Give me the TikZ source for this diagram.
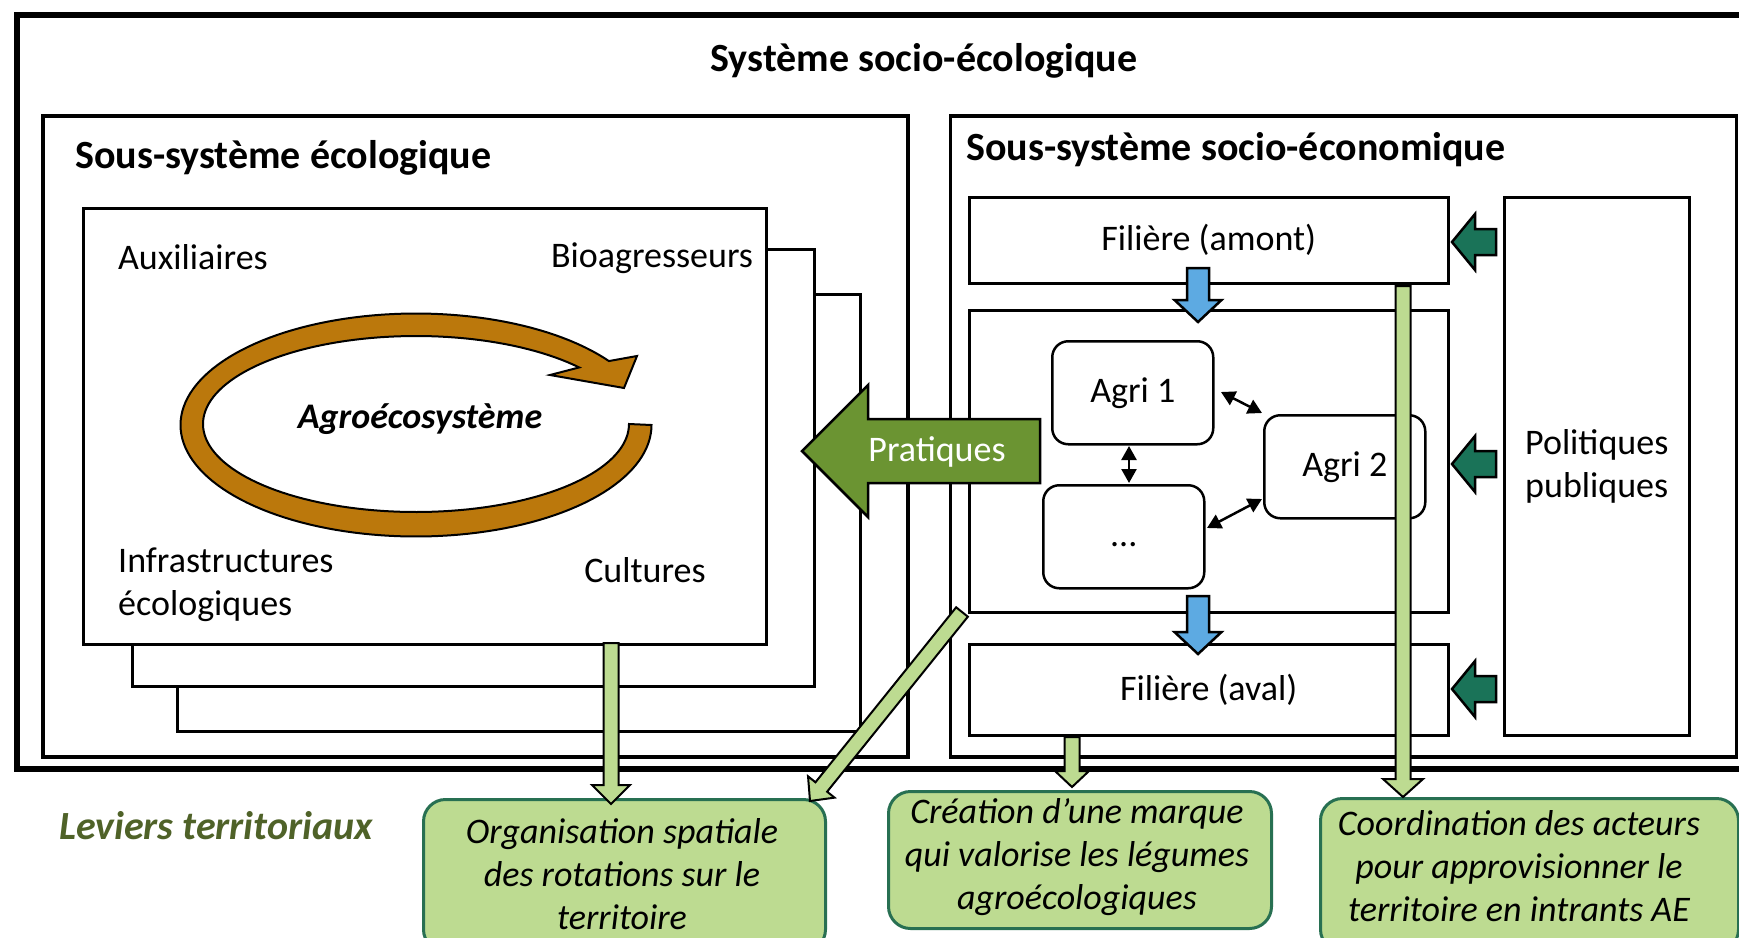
\documentclass[tikz,border=0pt]{standalone}
\usepackage{fontspec}
\setmainfont{Carlito}
\usetikzlibrary{arrows.meta,calc}
\definecolor{brownarr}{RGB}{187,120,12}
\definecolor{pratgreen}{RGB}{107,148,50}
\definecolor{bluearr}{RGB}{93,170,226}
\definecolor{darkgreen}{RGB}{26,115,88}
\definecolor{lightgreen}{RGB}{189,219,145}
\definecolor{boxborder}{RGB}{40,112,82}
\definecolor{leviercol}{RGB}{79,98,40}
\newcommand\txtsize{\fontsize{36}{43}\selectfont}
\newcommand\hdsize{\fontsize{40}{46}\selectfont}
\newcommand\fatarrow[6]{%
  \coordinate (fahead) at ($(#2)!#5!(#1)$);
  \filldraw[#6] ($(#1)!#3!90:(#2)$) -- ($(fahead)!#3!90:(#2)$) -- ($(fahead)!#4!90:(#2)$) -- (#2)
    -- ($(fahead)!#4!-90:(#2)$) -- ($(fahead)!#3!-90:(#2)$) -- ($(#1)!#3!-90:(#2)$) -- cycle;
}
\begin{document}
\begin{tikzpicture}[x=1pt,y=-1pt,
  framebox/.style={draw, fill=white, inner sep=0pt, anchor=north west},
  agribox/.style={draw, fill=white, line width=2.5pt, rounded corners=16pt, inner sep=0pt,
     anchor=north west, minimum width=161pt, minimum height=103pt, font=\txtsize},
  leverbox/.style={draw=boxborder, fill=lightgreen, line width=3pt, rounded corners=22pt, inner sep=0pt, anchor=north west},
  plaintext/.style={font=\txtsize, inner sep=0pt},
  levertext/.style={font=\txtsize\itshape, align=center, inner sep=0pt},
  dblarrow/.style={{Triangle[length=14pt,width=15pt]}-{Triangle[length=14pt,width=15pt]}, line width=2.5pt},
  lgarrow/.style={fill=lightgreen, draw=black, line width=2pt, line join=miter},
  bluestyle/.style={fill=bluearr, draw=black, line width=2.5pt, line join=miter},
  dgstyle/.style={fill=darkgreen, draw=black, line width=2.5pt, line join=miter},
  pratstyle/.style={fill=pratgreen, draw=black, line width=2.5pt, line join=miter}]
\clip (0,0) rectangle (1739,937);
\fill[white] (0,0) rectangle (1739,937);

% outer system
\node[framebox, line width=5.5pt, minimum width=1790pt, minimum height=754pt] (outer) at (14,12) {};
\node[font=\hdsize\bfseries, inner sep=0pt] (title) at (924,61) {Système socio-écologique};

% ecological subsystem
\node[framebox, line width=3.5pt, minimum width=865pt, minimum height=641pt] (eco) at (41,114) {};
\node[font=\hdsize\bfseries, inner sep=0pt, anchor=west] (ecotitle) at (75,158) {Sous-système écologique};
\node[framebox, line width=2.5pt, minimum width=683pt, minimum height=437pt] (stack3) at (176,293) {};
\node[framebox, line width=2.5pt, minimum width=682pt, minimum height=437pt] (stack2) at (131,248) {};
\node[framebox, line width=2.5pt, minimum width=683pt, minimum height=436pt] (stack1) at (82,207) {};

\node[plaintext] (aux) at (193,257) {Auxiliaires};
\node[plaintext] (bio) at (652,258) {Bioagresseurs};
\node[plaintext, anchor=west, align=left] (infra) at (118,585) {Infrastructures\\écologiques};
\node[plaintext] (cult) at (645,570) {Cultures};

% circular arrow
\filldraw[fill=brownarr, draw=black, line width=2pt, line join=miter]
  plot[domain=0:325, samples=140] ({416+235.5*cos(\x)},{425+111.5*sin(\x)})
  -- (637,356) -- (624,388) -- (550,375)
  -- plot[domain=320:0, samples=140] ({416+213*cos(\x)},{424+88*sin(\x)}) -- cycle;
\node[font=\txtsize\bfseries\itshape, inner sep=0pt] (agroeco) at (420,419) {Agroécosystème};

% socio-economic subsystem
\node[framebox, line width=3.5pt, minimum width=786pt, minimum height=641pt] (socio) at (948.5,114) {};
\node[font=\hdsize\bfseries, inner sep=0pt, anchor=west] (sociotitle) at (966,150) {Sous-système socio-économique};
\node[framebox, line width=2.5pt, minimum width=479pt, minimum height=86pt, font=\txtsize] (amont) at (968,196) {Filière (amont)};
\node[framebox, line width=2.5pt, minimum width=479pt, minimum height=302pt] (middle) at (968,309) {};
\node[framebox, line width=2.5pt, minimum width=479pt, minimum height=91pt, font=\txtsize] (aval) at (968,643) {Filière (aval)};
\node[framebox, line width=2.5pt, minimum width=185pt, minimum height=538pt, font=\txtsize, align=center] (polit) at (1503,196) {Politiques\\publiques};

\node[agribox] (agri1) at (1051,340) {Agri 1};
\node[agribox] (agri2) at (1263,414) {Agri 2};
\node[agribox] (dots) at (1042,484) {\vphantom{Agri}...};

% small double arrows
\coordinate (a12s) at (1221,392); \coordinate (a12e) at (1262,413);
\coordinate (a1ds) at (1129,446); \coordinate (a1de) at (1129,483);
\coordinate (d2s) at (1207,528); \coordinate (d2e) at (1262,499);
\draw[dblarrow] (a12s) -- (a12e);
\draw[dblarrow] (a1ds) -- (a1de);
\draw[dblarrow] (d2s) -- (d2e);

% blue arrows
\coordinate (b1s) at (1198,268); \coordinate (b1e) at (1198,322);
\coordinate (b2s) at (1198,596); \coordinate (b2e) at (1198,654);
\fatarrow{b1s}{b1e}{11pt}{23.5pt}{22pt}{bluestyle}
\fatarrow{b2s}{b2e}{11pt}{23.5pt}{22pt}{bluestyle}

% dark green arrows from public policies
\coordinate (p1s) at (1496,242); \coordinate (p1e) at (1452,242);
\coordinate (p2s) at (1496,464); \coordinate (p2e) at (1452,464);
\coordinate (p3s) at (1496,689); \coordinate (p3e) at (1452,689);
\fatarrow{p1s}{p1e}{13pt}{28pt}{23pt}{dgstyle}
\fatarrow{p2s}{p2e}{13pt}{28pt}{23pt}{dgstyle}
\fatarrow{p3s}{p3e}{13pt}{28pt}{23pt}{dgstyle}

% Pratiques arrow
\coordinate (prs) at (1040,451); \coordinate (pre) at (802,451);
\fatarrow{prs}{pre}{32pt}{66pt}{66pt}{pratstyle}
\node[font=\txtsize, text=white, inner sep=0pt] (pratlbl) at (937,452) {Pratiques};

% lever boxes
\node[leverbox, minimum width=402pt, minimum height=152pt] (orga) at (422,798) {};
\node[leverbox, minimum width=383pt, minimum height=137pt] (marque) at (887,790) {};
\node[leverbox, minimum width=418pt, minimum height=153pt] (coord) at (1319,797) {};
\node[levertext] (orgatxt) at (622,874) {Organisation spatiale\\des rotations sur le\\territoire};
\node[levertext] (marquetxt) at (1077,857) {Création d’une marque\\qui valorise les légumes\\agroécologiques};
\node[levertext] (coordtxt) at (1519,866) {Coordination des acteurs\\pour approvisionner le\\territoire en intrants AE};
\node[font=\hdsize\bfseries\itshape, text=leviercol, inner sep=0pt] (leviers) at (216,826) {Leviers territoriaux};

% light green lever arrows
\coordinate (g1s) at (611,643); \coordinate (g1e) at (611,804);
\coordinate (g2s) at (962,612); \coordinate (g2e) at (810,801);
\coordinate (g3s) at (1072,737); \coordinate (g3e) at (1072,787);
\coordinate (g4s) at (1403,286); \coordinate (g4e) at (1403,797);
\fatarrow{g1s}{g1e}{7.5pt}{19pt}{19pt}{lgarrow}
\fatarrow{g2s}{g2e}{7.5pt}{17pt}{18pt}{lgarrow}
\fatarrow{g3s}{g3e}{7.5pt}{17pt}{16pt}{lgarrow}
\fatarrow{g4s}{g4e}{7.5pt}{20pt}{18pt}{lgarrow}
\end{tikzpicture}
\end{document}
